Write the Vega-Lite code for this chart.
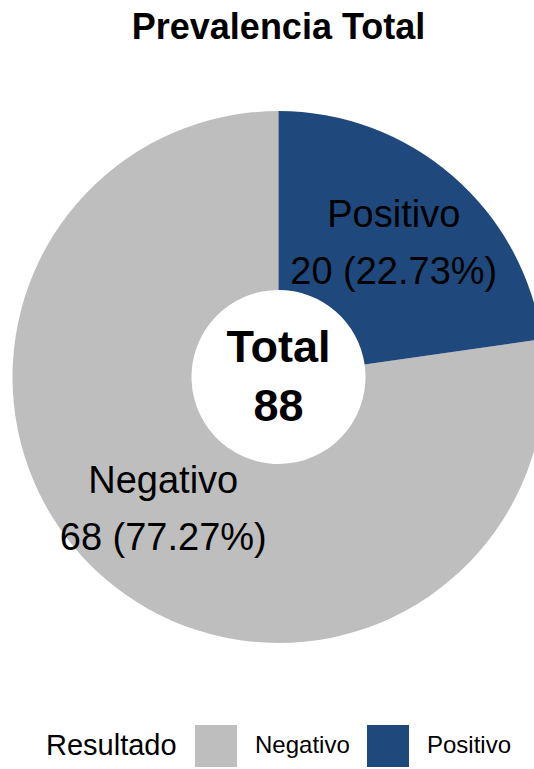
{
  "$schema": "https://vega.github.io/schema/vega-lite/v6.json",
  "autosize": "none",
  "width": 557,
  "height": 532,
  "padding": {"left": 0, "top": 111, "right": 0, "bottom": 126},
  "background": "white",
  "config": {"view": {"stroke": null}},
  "title": {
    "text": "Prevalencia Total",
    "font": "Liberation Sans",
    "fontSize": 36,
    "fontWeight": "bold",
    "color": "black",
    "anchor": "middle",
    "offset": 64
  },
  "data": {
    "values": [
      {"Resultado": "Negativo", "n": 68, "label": "Negativo\n68 (77.27%)"},
      {"Resultado": "Positivo", "n": 20, "label": "Positivo\n20 (22.73%)"}
    ]
  },
  "layer": [
    {
      "mark": {"type": "arc", "outerRadius": 266, "innerRadius": 87},
      "encoding": {
        "theta": {"field": "n", "type": "quantitative", "stack": true},
        "order": {"field": "Resultado", "sort": "descending"},
        "color": {
          "field": "Resultado",
          "type": "nominal",
          "scale": {"domain": ["Negativo", "Positivo"], "range": ["#BEBEBE", "#1F497D"]},
          "legend": {
            "orient": "none",
            "legendX": 46,
            "legendY": 614,
            "direction": "horizontal",
            "title": "Resultado",
            "titleOrient": "left",
            "titleFont": "Liberation Sans",
            "titleFontSize": 29,
            "titleFontWeight": "normal",
            "titleColor": "black",
            "titlePadding": 18,
            "labelFont": "Liberation Sans",
            "labelFontSize": 24,
            "labelColor": "black",
            "labelOffset": 18,
            "columnPadding": 17,
            "symbolType": "square",
            "symbolSize": 1764,
            "symbolStrokeWidth": 0,
            "symbolOpacity": 1
          }
        }
      }
    },
    {
      "mark": {
        "type": "text",
        "radius": 176,
        "font": "Liberation Sans",
        "fontSize": 38,
        "lineBreak": "\n",
        "lineHeight": 57,
        "baseline": "middle",
        "align": "center",
        "dy": -28,
        "color": "black"
      },
      "encoding": {
        "theta": {"field": "n", "type": "quantitative", "stack": true},
        "order": {"field": "Resultado", "sort": "descending"},
        "text": {"field": "label"}
      }
    },
    {
      "data": {"values": [{"center": "Total\n88"}]},
      "mark": {
        "type": "text",
        "font": "Liberation Sans",
        "fontSize": 45,
        "fontWeight": "bold",
        "lineBreak": "\n",
        "lineHeight": 59,
        "baseline": "middle",
        "align": "center",
        "dy": -29,
        "color": "black"
      },
      "encoding": {"text": {"field": "center"}}
    }
  ]
}
